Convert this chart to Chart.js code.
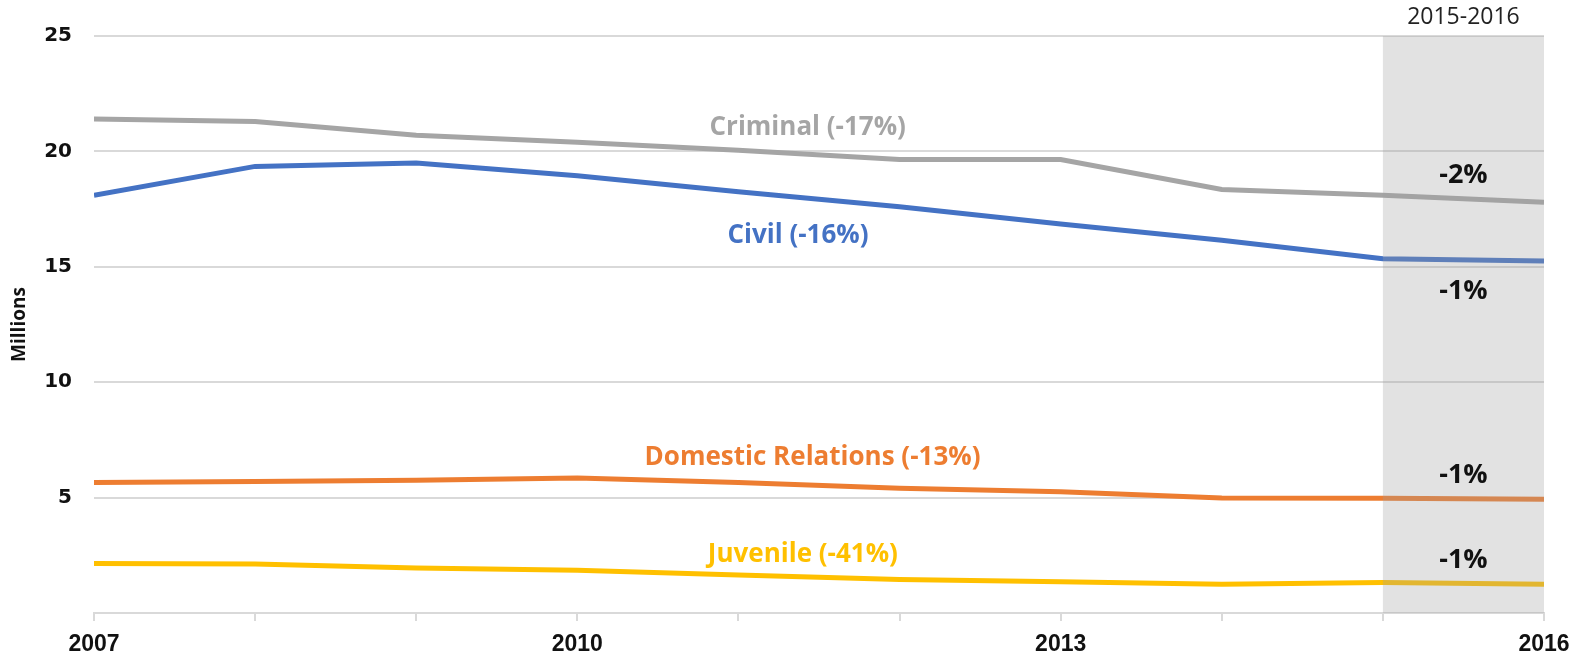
<!DOCTYPE html>
<html>
<head>
<meta charset="utf-8">
<script src="https://cdn.jsdelivr.net/npm/chart.js@4/dist/chart.umd.min.js"></script>
<style>
  html, body { margin: 0; padding: 0; background: #fff; }
  #wrap { width: 1594px; height: 659px; }
</style>
</head>
<body>
<div id="wrap"><canvas id="chartCases"></canvas></div>
<script>
  const years = [2007, 2008, 2009, 2010, 2011, 2012, 2013, 2014, 2015, 2016];
  const criminal = [21.4, 21.3, 20.7, 20.4, 20.05, 19.65, 19.65, 18.35, 18.1, 17.8];
  const civil = [18.1, 19.35, 19.5, 18.95, 18.25, 17.6, 16.85, 16.15, 15.35, 15.25];
  const domestic = [5.65, 5.7, 5.75, 5.85, 5.65, 5.4, 5.25, 4.98, 4.97, 4.93];
  const juvenile = [2.15, 2.12, 1.95, 1.85, 1.65, 1.45, 1.35, 1.25, 1.32, 1.25];
  const shownYears = [2007, 2010, 2013, 2016];
  const seriesLabels = ['Criminal (-17%)', 'Civil (-16%)', 'Domestic Relations (-13%)', 'Juvenile (-41%)'];
  const changeLabels = ['-2%', '-1%', '-1%', '-1%'];

  const colors = ['#a5a5a5', '#4472c4', '#ed7d31', '#ffc000'];
  const series = [criminal, civil, domestic, juvenile];

  // where the text sits, in chart units (year, millions)
  const namePos = [[2011.43, 21.05], [2011.37, 16.35], [2011.46, 6.75], [2011.4, 2.55]];
  const changePos = [[2015.5, 18.95], [2015.5, 13.95], [2015.5, 5.95], [2015.5, 2.3]];

  const shadePlugin = {
    id: 'shade',
    afterDatasetsDraw(chart) {
      const { ctx, scales: { x, y } } = chart;
      const x0 = x.getPixelForValue(2015), x1 = x.getPixelForValue(2016);
      const y0 = y.getPixelForValue(25), y1 = y.getPixelForValue(0);
      ctx.save();
      ctx.fillStyle = 'rgba(160,160,160,0.3)';
      ctx.fillRect(x0, y0, x1 - x0, y1 - y0);

      ctx.textAlign = 'center';
      ctx.textBaseline = 'middle';
      ctx.fillStyle = '#222';
      ctx.font = '23px "Open Sans", sans-serif';
      ctx.fillText('2015-2016', (x0 + x1) / 2, y0 - 19);

      ctx.font = 'bold 26px "Open Sans", sans-serif';
      seriesLabels.forEach((t, i) => {
        ctx.fillStyle = colors[i];
        ctx.fillText(t, x.getPixelForValue(namePos[i][0]), y.getPixelForValue(namePos[i][1]));
      });
      ctx.fillStyle = '#111';
      ctx.font = 'bold 27px "Open Sans", sans-serif';
      changeLabels.forEach((t, i) => {
        ctx.fillText(t, x.getPixelForValue(changePos[i][0]), y.getPixelForValue(changePos[i][1]));
      });
      ctx.restore();
    }
  };

  new Chart(document.getElementById('chartCases'), {
    type: 'line',
    data: {
      datasets: series.map((s, i) => ({
        label: seriesLabels[i],
        data: years.map((yr, j) => ({ x: yr, y: s[j] })),
        borderColor: colors[i],
        borderWidth: 5,
        pointRadius: 0,
        tension: 0
      }))
    },
    options: {
      responsive: true,
      maintainAspectRatio: false,
      animation: false,
      layout: { padding: { top: 36, right: 50, left: 8, bottom: 0 } },
      plugins: { legend: { display: false }, tooltip: { enabled: false } },
      scales: {
        x: {
          type: 'linear',
          min: 2007,
          max: 2016,
          ticks: {
            stepSize: 1,
            autoSkip: false,
            maxRotation: 0,
            padding: 10,
            color: '#111',
            font: { family: '"Liberation Sans", sans-serif', weight: 'bold', size: 23 },
            callback: v => shownYears.includes(v) ? String(v) : ''
          },
          grid: { drawOnChartArea: false, color: '#d9d9d9', lineWidth: 2, tickLength: 8 },
          border: { color: '#d9d9d9', width: 2 },
          afterFit(scale) { scale.height = 46; }
        },
        y: {
          min: 0,
          max: 25,
          ticks: {
            stepSize: 5,
            padding: 22,
            color: '#111',
            font: { family: '"DejaVu Sans", sans-serif', weight: 'bold', size: 20 },
            callback: v => v === 0 ? '' : v
          },
          grid: { color: '#d9d9d9', lineWidth: 2, drawTicks: false },
          border: { display: false },
          title: {
            display: true,
            text: 'Millions',
            color: '#111',
            font: { family: '"Open Sans", sans-serif', weight: 'bold', size: 19 },
            padding: { top: 0, bottom: 0 }
          },
          afterFit(scale) { scale.width = 86; }
        }
      }
    },
    plugins: [shadePlugin]
  });
</script>
</body>
</html>
